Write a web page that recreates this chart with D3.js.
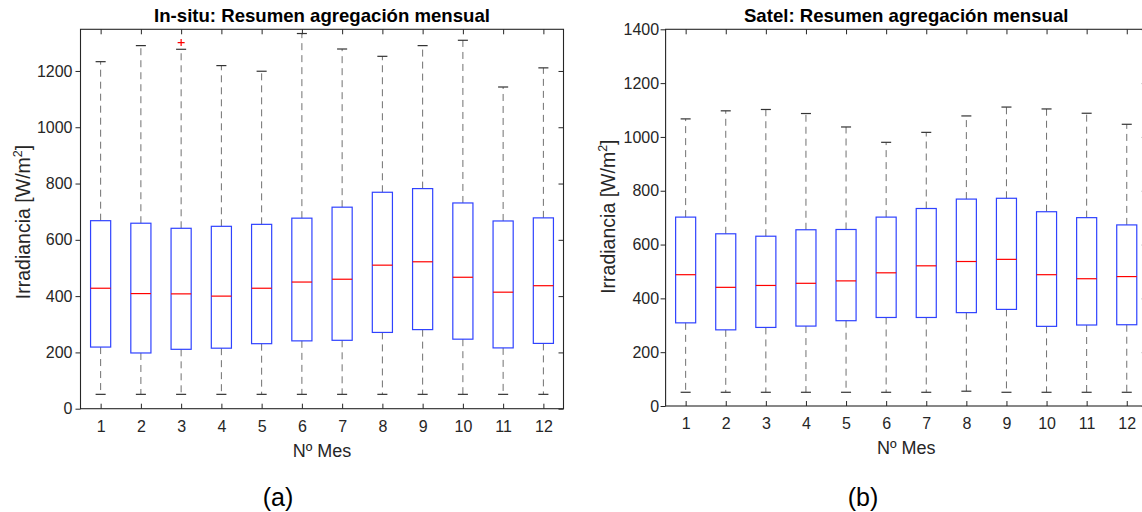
<!DOCTYPE html>
<html>
<head>
<meta charset="utf-8">
<script src="https://cdn.jsdelivr.net/npm/d3@7"></script>
<style>
  html, body { margin: 0; padding: 0; background: #fff; overflow: hidden; }
  svg { display: block; font-family: "Liberation Sans", Arial, Helvetica, sans-serif; }
</style>
</head>
<body>
<svg id="chart" width="1142" height="512"></svg>
<script>
// ---------- data ----------
const months = [1, 2, 3, 4, 5, 6, 7, 8, 9, 10, 11, 12];

// In-situ (a)
const insituLow    = [51, 51, 51, 51, 51, 51, 51, 51, 51, 51, 51, 51];
const insituQ1     = [219, 198, 211, 215, 231, 241, 243, 271, 281, 247, 216, 232];
const insituMedian = [428, 409, 408, 400, 428, 450, 460, 510, 522, 467, 414, 437];
const insituQ3     = [668, 659, 641, 648, 655, 677, 716, 769, 782, 731, 667, 678];
const insituHigh   = [1233, 1290, 1277, 1219, 1199, 1333, 1278, 1252, 1290, 1309, 1143, 1211];
const insituOutlierMonth = [3];
const insituOutlierValue = [1301];

// Satel (b)
const satelLow    = [51, 51, 51, 51, 51, 51, 51, 55, 51, 51, 51, 51];
const satelQ1     = [309, 283, 292, 297, 317, 329, 329, 347, 359, 296, 301, 302];
const satelMedian = [488, 441, 448, 456, 465, 495, 521, 537, 545, 488, 473, 481];
const satelQ3     = [702, 640, 631, 655, 656, 702, 734, 769, 772, 722, 700, 673];
const satelHigh   = [1067, 1097, 1102, 1087, 1037, 980, 1017, 1078, 1111, 1104, 1088, 1047];

const insituYTicks = [0, 200, 400, 600, 800, 1000, 1200];
const satelYTicks  = [0, 200, 400, 600, 800, 1000, 1200, 1400];
const insituYMax = 1348;
const satelYMax = 1400;

const titles = ["In-situ: Resumen agregación mensual", "Satel: Resumen agregación mensual"];
const xLabel = "Nº Mes";
const yLabelMain = "Irradiancia [W/m";
const yLabelSup = "2";
const yLabelEnd = "]";
const panelLabels = ["(a)", "(b)"];

// ---------- drawing ----------
const svg = d3.select("#chart");
svg.append("rect").attr("width", 1142).attr("height", 512).attr("fill", "#fff");

const AX = "#262626";

function drawPanel(cfg) {
  const x = d3.scaleLinear().domain([0.5, 12.5]).range([cfg.left, cfg.right]);
  const y = d3.scaleLinear().domain([0, cfg.yMax]).range([cfg.bottom, cfg.top]);
  const g = svg.append("g");

  // frame
  g.append("rect")
    .attr("x", cfg.left).attr("y", cfg.top)
    .attr("width", cfg.right - cfg.left).attr("height", cfg.bottom - cfg.top)
    .attr("fill", "none").attr("stroke", AX).attr("stroke-width", 1.1);

  // bottom axis
  const xb = g.append("g").attr("transform", `translate(0,${cfg.bottom})`)
    .call(d3.axisBottom(x).tickValues(months).tickFormat(d3.format("d")).tickSizeInner(-5).tickSizeOuter(0).tickPadding(12));
  // top axis (ticks only)
  const xt = g.append("g").attr("transform", `translate(0,${cfg.top})`)
    .call(d3.axisTop(x).tickValues(months).tickFormat("").tickSizeInner(-5).tickSizeOuter(0));
  // left axis
  const yl = g.append("g").attr("transform", `translate(${cfg.left},0)`)
    .call(d3.axisLeft(y).tickValues(cfg.yTicks).tickFormat(d3.format("d")).tickSizeInner(cfg.leftTick).tickSizeOuter(0).tickPadding(cfg.leftPad));
  // right axis (ticks only)
  const yr = g.append("g").attr("transform", `translate(${cfg.right},0)`)
    .call(d3.axisRight(y).tickValues(cfg.yTicks).tickFormat("").tickSizeInner(-5).tickSizeOuter(0));

  [xb, xt, yl, yr].forEach(a => {
    a.select(".domain").remove();
    a.selectAll(".tick line").attr("stroke", AX);
    a.selectAll(".tick text").attr("fill", AX).attr("font-size", "16px")
      .attr("font-family", "'Liberation Sans', Arial, sans-serif");
  });

  const half = 0.25, capHalf = 0.125;
  const d = months.map((m, i) => ({
    m, low: cfg.low[i], q1: cfg.q1[i], med: cfg.med[i], q3: cfg.q3[i], high: cfg.high[i]
  }));
  const bg = g.append("g");

  // whiskers (dashed)
  bg.selectAll(".wu").data(d).join("line")
    .attr("x1", v => x(v.m)).attr("x2", v => x(v.m))
    .attr("y1", v => y(v.q3)).attr("y2", v => y(v.high))
    .attr("stroke", "#707070").attr("stroke-width", 1).attr("stroke-dasharray", "7,5");
  bg.selectAll(".wl").data(d).join("line")
    .attr("x1", v => x(v.m)).attr("x2", v => x(v.m))
    .attr("y1", v => y(v.q1)).attr("y2", v => y(v.low))
    .attr("stroke", "#707070").attr("stroke-width", 1).attr("stroke-dasharray", "7,5");
  // caps
  bg.selectAll(".cu").data(d).join("line")
    .attr("x1", v => x(v.m - capHalf)).attr("x2", v => x(v.m + capHalf))
    .attr("y1", v => y(v.high)).attr("y2", v => y(v.high))
    .attr("stroke", "#333").attr("stroke-width", 1.2);
  bg.selectAll(".cl").data(d).join("line")
    .attr("x1", v => x(v.m - capHalf)).attr("x2", v => x(v.m + capHalf))
    .attr("y1", v => y(v.low)).attr("y2", v => y(v.low))
    .attr("stroke", "#333").attr("stroke-width", 1.2);
  // boxes
  bg.selectAll(".bx").data(d).join("rect")
    .attr("x", v => x(v.m - half)).attr("width", v => x(v.m + half) - x(v.m - half))
    .attr("y", v => y(v.q3)).attr("height", v => y(v.q1) - y(v.q3))
    .attr("fill", "none").attr("stroke", "#2f42ff").attr("stroke-width", 1.2);
  // medians
  bg.selectAll(".md").data(d).join("line")
    .attr("x1", v => x(v.m - half)).attr("x2", v => x(v.m + half))
    .attr("y1", v => y(v.med)).attr("y2", v => y(v.med))
    .attr("stroke", "#ff0000").attr("stroke-width", 1.2);

  // outliers
  if (cfg.outM) {
    const od = cfg.outM.map((m, i) => ({ m, v: cfg.outV[i] }));
    bg.selectAll(".ol").data(od).join("path")
      .attr("d", o => `M${x(o.m) - 3.5},${y(o.v)}h7M${x(o.m)},${y(o.v) - 3.5}v7`)
      .attr("stroke", "#ff0000").attr("stroke-width", 1.2).attr("fill", "none");
  }

  // title
  g.append("text")
    .attr("x", (cfg.left + cfg.right) / 2).attr("y", 21.5)
    .attr("text-anchor", "middle").attr("font-weight", "bold").attr("font-size", "18.6px")
    .attr("fill", "#000").text(cfg.title);

  // x label
  g.append("text")
    .attr("x", (cfg.left + cfg.right) / 2).attr("y", cfg.bottom + 48)
    .attr("text-anchor", "middle").attr("font-size", "18px").attr("fill", AX).text(xLabel);

  // y label
  const yt = g.append("text")
    .attr("transform", `translate(${cfg.ylabelX},${(cfg.top + cfg.bottom) / 2 + cfg.ylabelDy}) rotate(-90)`)
    .attr("text-anchor", "middle").attr("font-size", "19.5px").attr("fill", AX);
  yt.append("tspan").text(yLabelMain);
  yt.append("tspan").attr("font-size", "12.5px").attr("dy", "-8").text(yLabelSup);
  yt.append("tspan").attr("dy", "8").text(yLabelEnd);

  // panel label
  svg.append("text")
    .attr("x", cfg.panelX).attr("y", 506)
    .attr("text-anchor", "middle").attr("font-size", "25px").attr("fill", "#000").text(cfg.panel);
}

drawPanel({
  left: 80.5, right: 563.5, top: 29.3, bottom: 408.7,
  yMax: insituYMax, yTicks: insituYTicks, leftTick: 5, leftPad: 3,
  low: insituLow, q1: insituQ1, med: insituMedian, q3: insituQ3, high: insituHigh,
  outM: insituOutlierMonth, outV: insituOutlierValue,
  title: titles[0], ylabelX: 29.5, ylabelDy: 3, panelX: 278, panel: panelLabels[0]
});

drawPanel({
  left: 665.6, right: 1146.8, top: 29.3, bottom: 406,
  yMax: satelYMax, yTicks: satelYTicks, leftTick: 5, leftPad: 1.5,
  low: satelLow, q1: satelQ1, med: satelMedian, q3: satelQ3, high: satelHigh,
  outM: null, outV: null,
  title: titles[1], ylabelX: 614.5, ylabelDy: -1, panelX: 863, panel: panelLabels[1]
});
</script>
</body>
</html>
